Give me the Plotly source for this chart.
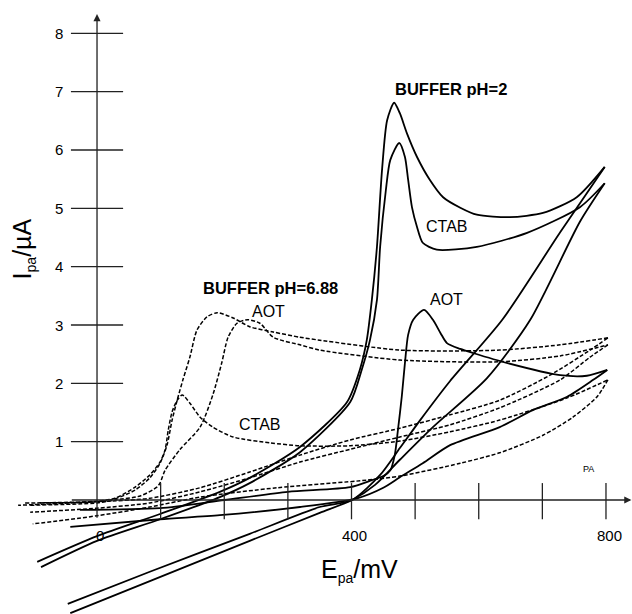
import plotly.graph_objects as go

# ---------------- data (E in mV, I in uA) ----------------
# Solid curves: BUFFER pH=2
s1_fwd_x = [-94, 0, 99, 193, 240, 319, 393, 413, 424, 432, 440, 448, 456, 467, 476, 487, 503, 523, 544, 571, 597, 649, 701, 754, 798]
s1_fwd_y = [-1.06, -0.62, -0.24, 0.14, 0.38, 0.91, 1.68, 2.23, 2.74, 3.43, 4.34, 5.66, 6.51, 6.81, 6.63, 6.29, 5.88, 5.49, 5.19, 5.01, 4.89, 4.85, 4.92, 5.19, 5.71]
s1_rev_x = [798, 728, 637, 555, 508, 476, 445, 401, 350, 240, 83, -46]
s1_rev_y = [5.71, 4.59, 3.09, 2.04, 1.37, 0.89, 0.43, 0.0, -0.12, -0.58, -1.23, -1.78]

s2_fwd_x = [-88, 0, 99, 193, 240, 319, 398, 416, 429, 440, 445, 454, 461, 475, 484, 489, 495, 503, 512, 534, 597, 676, 759, 798]
s2_fwd_y = [-1.15, -0.70, -0.33, 0.05, 0.29, 0.82, 1.68, 2.23, 2.74, 3.43, 4.34, 5.31, 5.83, 6.12, 5.88, 5.49, 5.02, 4.68, 4.41, 4.29, 4.34, 4.58, 5.02, 5.43]
s2_rev_x = [798, 759, 681, 613, 528, 476, 437, 401, 350, 240, 83, -42]
s2_rev_y = [5.43, 4.77, 3.09, 2.09, 1.25, 0.69, 0.26, 0.0, -0.22, -0.70, -1.39, -1.94]

s3_fwd_x = [-27, 99, 200, 300, 398, 432, 450, 461, 468, 473, 479, 484, 489, 497, 514, 528, 540, 550, 571, 591, 644, 728, 770, 802]
s3_fwd_y = [-0.17, -0.14, 0.0, 0.14, 0.22, 0.34, 0.41, 0.51, 0.77, 1.20, 1.77, 2.35, 2.83, 3.09, 3.26, 3.09, 2.86, 2.69, 2.59, 2.52, 2.35, 2.14, 2.13, 2.23]
s3_rev_x = [802, 780, 739, 685, 633, 555, 512, 476, 450, 409, 319, 193, 99, -42]
s3_rev_y = [2.23, 2.06, 1.77, 1.54, 1.25, 0.94, 0.63, 0.39, 0.21, 0.03, -0.12, -0.26, -0.33, -0.46]

# Dashed curves: BUFFER pH=6.88
d1_fwd_x = [-113, 0, 28, 60, 83, 99, 110, 118, 126, 135, 146, 157, 173, 189, 214, 240, 277, 319, 350, 476, 633, 728, 803]
d1_fwd_y = [-0.05, -0.03, 0.02, 0.17, 0.38, 0.63, 0.94, 1.37, 1.71, 2.06, 2.45, 2.91, 3.14, 3.21, 3.12, 2.97, 2.88, 2.79, 2.74, 2.57, 2.57, 2.66, 2.78]
d1_rev_x = [803, 775, 712, 633, 555, 476, 398, 319, 240, 162, 83, 0, -124]
d1_rev_y = [2.78, 2.57, 2.14, 1.71, 1.46, 1.23, 1.03, 0.77, 0.48, 0.21, 0.03, -0.03, -0.09]

d2_fwd_x = [-105, 0, 28, 68, 94, 99, 107, 130, 162, 182, 196, 206, 220, 237, 256, 277, 319, 350, 476, 633, 728, 803]
d2_fwd_y = [-0.09, -0.05, 0.0, 0.07, 0.22, 0.29, 0.51, 0.86, 1.25, 1.80, 2.35, 2.79, 3.03, 3.09, 3.03, 2.79, 2.66, 2.57, 2.40, 2.37, 2.47, 2.66]
d2_rev_x = [803, 775, 728, 633, 555, 476, 398, 319, 240, 162, 83, 0, -105]
d2_rev_y = [2.66, 2.45, 2.06, 1.58, 1.29, 1.08, 0.87, 0.65, 0.38, 0.14, -0.05, -0.14, -0.21]

d3_fwd_x = [-90, 0, 28, 60, 83, 99, 107, 112, 118, 126, 134, 146, 162, 182, 214, 272, 319, 398, 476, 555, 633, 739, 803]
d3_fwd_y = [-0.05, -0.02, 0.03, 0.22, 0.43, 0.65, 0.86, 1.20, 1.51, 1.71, 1.80, 1.66, 1.42, 1.25, 1.08, 0.98, 0.93, 0.93, 1.01, 1.17, 1.37, 1.75, 2.06]
d3_rev_x = [803, 786, 748, 701, 633, 571, 476, 424, 283, 162, 83, 0, -101]
d3_rev_y = [2.06, 1.77, 1.42, 1.11, 0.81, 0.63, 0.41, 0.34, 0.21, 0.05, -0.12, -0.27, -0.41]

# Axis ticks and labels
y_ticks = [1, 2, 3, 4, 5, 6, 7, 8]
y_tick_labels = ["1", "2", "3", "4", "5", "6", "7", "8"]
x_ticks = [100, 200, 300, 400, 500, 600, 700, 800]
x_label_vals = [0, 400, 800]
x_label_text = ["0", "400", "800"]

# ---------------- figure ----------------
fig = go.Figure()

solid = dict(color="black", width=1.8, shape="spline", smoothing=0.7)
dashed = dict(color="black", width=1.5, dash="4px,2px", shape="spline", smoothing=0.7)

for xs, ys in [(s1_fwd_x, s1_fwd_y), (s1_rev_x, s1_rev_y), (s2_fwd_x, s2_fwd_y), (s2_rev_x, s2_rev_y),
               (s3_fwd_x, s3_fwd_y), (s3_rev_x, s3_rev_y)]:
    fig.add_trace(go.Scatter(x=xs, y=ys, mode="lines", line=solid, showlegend=False, hoverinfo="skip"))

for xs, ys in [(d1_fwd_x, d1_fwd_y), (d1_rev_x, d1_rev_y), (d2_fwd_x, d2_fwd_y), (d2_rev_x, d2_rev_y),
               (d3_fwd_x, d3_fwd_y), (d3_rev_x, d3_rev_y)]:
    fig.add_trace(go.Scatter(x=xs, y=ys, mode="lines", line=dashed, showlegend=False, hoverinfo="skip"))

axis_col = "#222222"
shapes = []
for v in y_ticks:
    shapes.append(dict(type="line", xref="x", yref="y", x0=-41, x1=41, y0=v, y1=v,
                       line=dict(color=axis_col, width=1.3)))
for v in x_ticks:
    shapes.append(dict(type="line", xref="x", yref="y", x0=v, x1=v, y0=-0.33, y1=0.29,
                       line=dict(color=axis_col, width=1.3)))

font_main = "Arial, Liberation Sans, sans-serif"
ann = []
# axes with arrows
ann.append(dict(x=840, y=0, ax=-42, ay=0, xref="x", yref="y", axref="x", ayref="y", text="",
                showarrow=True, arrowhead=2, arrowsize=1.1, arrowwidth=1.3, arrowcolor=axis_col))
ann.append(dict(x=0, y=8.33, ax=0, ay=-0.33, xref="x", yref="y", axref="x", ayref="y", text="",
                showarrow=True, arrowhead=2, arrowsize=1.1, arrowwidth=1.3, arrowcolor=axis_col))

for v, t in zip(y_ticks, y_tick_labels):
    ann.append(dict(x=-60, y=v, text=t, showarrow=False, xref="x", yref="y",
                    font=dict(family=font_main, size=15, color="black")))
for v, t in zip(x_label_vals, x_label_text):
    ann.append(dict(x=v + 5, y=-0.6, text=t, showarrow=False, xref="x", yref="y",
                    font=dict(family=font_main, size=15, color="black")))

sub_pa = '<sub><span style="font-size:14px">pa</span></sub>'
ann.append(dict(x=413, y=-1.2, text="E" + sub_pa + "/mV", showarrow=False, xref="x", yref="y",
                font=dict(family=font_main, size=25, color="black")))
ann.append(dict(x=-116, y=4.30, text="I" + sub_pa + "/µA", showarrow=False, xref="x", yref="y",
                textangle=-90, font=dict(family=font_main, size=25, color="black")))

labels = [
    (556, 7.05, "<b>BUFFER pH=2</b>", 16.5),
    (272, 3.63, "<b>BUFFER pH=6.88</b>", 16.5),
    (269, 3.24, "AOT", 16),
    (256, 1.29, "CTAB", 16),
    (550, 4.68, "CTAB", 16),
    (550, 3.43, "AOT", 16),
    (772, 0.53, "PA", 9),
]
for x, y, t, s in labels:
    ann.append(dict(x=x, y=y, text=t, showarrow=False, xref="x", yref="y",
                    font=dict(family=font_main, size=s, color="black")))

fig.update_layout(
    width=632, height=614,
    margin=dict(l=0, r=0, t=0, b=0),
    paper_bgcolor="white", plot_bgcolor="white",
    xaxis=dict(range=[-152.5, 840.9], visible=False, fixedrange=True),
    yaxis=dict(range=[-1.954, 8.571], visible=False, fixedrange=True),
    shapes=shapes, annotations=ann, showlegend=False,
)

fig.write_html("out.html")
